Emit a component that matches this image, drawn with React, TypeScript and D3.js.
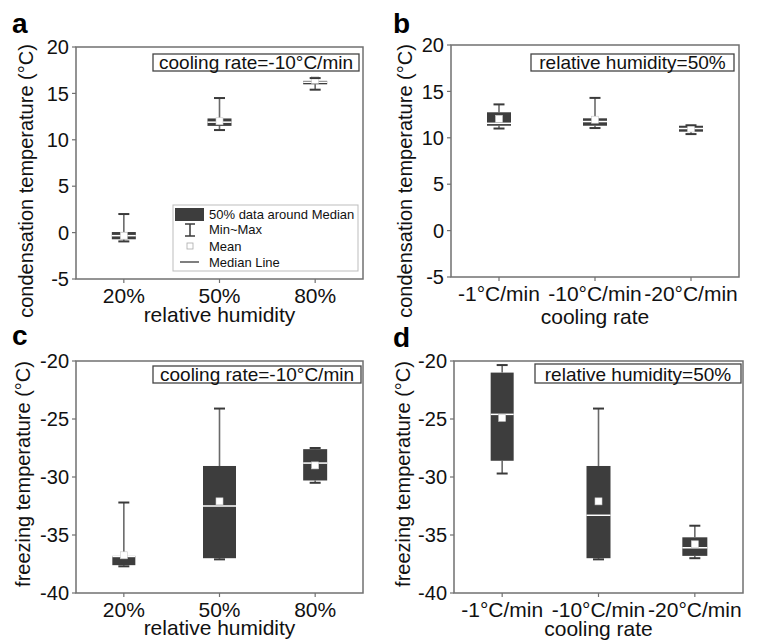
import React from "react";
import * as d3 from "d3";

// ---------- data ----------
const humidityCats = ["20%", "50%", "80%"];
const rateCats = ["-1°C/min", "-10°C/min", "-20°C/min"];

const condTicks = [-5, 0, 5, 10, 15, 20];
const freezeTicks = [-40, -35, -30, -25, -20];

// panel a: condensation vs humidity (cooling -10°C/min)
const aMin = [-0.95, 11.05, 15.4];
const aQ1 = [-0.72, 11.5, 15.98];
const aMedian = [-0.33, 11.9, 16.2];
const aQ3 = [0.06, 12.3, 16.35];
const aMax = [2.0, 14.5, 16.65];
const aMean = [-0.33, 12.0, 16.45];

// panel b: condensation vs cooling rate (RH 50%)
const bMin = [11.0, 11.05, 10.4];
const bQ1 = [11.3, 11.3, 10.66];
const bMedian = [11.56, 11.75, 11.0];
const bQ3 = [12.75, 12.1, 11.3];
const bMax = [13.6, 14.3, 11.35];
const bMean = [12.05, 11.95, 11.0];

// panel c: freezing vs humidity (cooling -10°C/min)
const cMin = [-37.7, -37.1, -30.5];
const cQ1 = [-37.6, -37.0, -30.3];
const cMedian = [-36.85, -32.5, -28.8];
const cQ3 = [-36.8, -29.05, -27.6];
const cMax = [-32.2, -24.1, -27.5];
const cMean = [-36.75, -32.1, -29.0];

// panel d: freezing vs cooling rate (RH 50%)
const dMin = [-29.7, -37.1, -37.0];
const dQ1 = [-28.6, -37.0, -36.8];
const dMedian = [-24.6, -33.3, -36.1];
const dQ3 = [-21.0, -29.05, -35.2];
const dMax = [-20.35, -24.1, -34.2];
const dMean = [-24.9, -32.1, -35.8];

// ---------- layout / style ----------
const BOX_FILL = "#3d3d3d";
const FRAME = "#707070";
const TXT = "#111";
const FONT = "'Liberation Sans', Arial, Helvetica, sans-serif";

const panels = [
  {
    letter: "a", letterPos: [12, 33],
    frame: { l: 76, r: 363, t: 47, b: 279 },
    domain: [-5, 20], ticks: condTicks, cats: humidityCats,
    min: aMin, q1: aQ1, med: aMedian, q3: aQ3, max: aMax, mean: aMean,
    boxW: [24, 24, 24],
    yTitle: "condensation temperature (°C)", yTitlePos: [33, 181],
    xTitle: "relative humidity", xTitleDy: 43,
    note: "cooling rate=-10°C/min", noteBox: [153, 54, 206, 17],
    legend: true,
  },
  {
    letter: "b", letterPos: [393, 33],
    frame: { l: 451, r: 739, t: 45, b: 277 },
    domain: [-5, 20], ticks: condTicks, cats: rateCats,
    min: bMin, q1: bQ1, med: bMedian, q3: bQ3, max: bMax, mean: bMean,
    boxW: [24, 24, 24],
    yTitle: "condensation temperature (°C)", yTitlePos: [412, 181],
    xTitle: "cooling rate", xTitleDy: 47,
    note: "relative humidity=50%", noteBox: [531, 54, 203, 17],
    legend: false,
  },
  {
    letter: "c", letterPos: [12, 345],
    frame: { l: 76, r: 363, t: 361, b: 593 },
    domain: [-40, -20], ticks: freezeTicks, cats: humidityCats,
    min: cMin, q1: cQ1, med: cMedian, q3: cQ3, max: cMax, mean: cMean,
    boxW: [23, 33, 24],
    yTitle: "freezing temperature (°C)", yTitlePos: [30, 474],
    xTitle: "relative humidity", xTitleDy: 42,
    note: "cooling rate=-10°C/min", noteBox: [153, 366, 208, 17],
    legend: false,
  },
  {
    letter: "d", letterPos: [393, 347],
    frame: { l: 454, r: 743, t: 361, b: 593 },
    domain: [-40, -20], ticks: freezeTicks, cats: rateCats,
    min: dMin, q1: dQ1, med: dMedian, q3: dQ3, max: dMax, mean: dMean,
    boxW: [23, 24, 25],
    yTitle: "freezing temperature (°C)", yTitlePos: [410, 474],
    xTitle: "cooling rate", xTitleDy: 43,
    note: "relative humidity=50%", noteBox: [535, 364, 206, 19],
    legend: false,
  },
];

function Panel({ p }: { p: any }) {
  const { l, r, t, b } = p.frame;
  const y = d3.scaleLinear().domain(p.domain).range([b, t]);
  const x = d3.scalePoint<string>().domain(p.cats).range([l, r]).padding(0.5);
  const capW = 11;

  return (
    <g>
      <text x={p.letterPos[0]} y={p.letterPos[1]} fontSize={28} fontWeight="bold" fill="#000">
        {p.letter}
      </text>

      {p.ticks.map((v: number) => (
        <g key={"yt" + v}>
          <line x1={l - 4} x2={l} y1={y(v)} y2={y(v)} stroke={FRAME} strokeWidth={1.2} />
          <text x={l - 7} y={y(v)} dy="0.36em" textAnchor="end" fontSize={20} fill={TXT}>
            {String(v)}
          </text>
        </g>
      ))}

      {p.cats.map((c: string) => (
        <g key={"xt" + c}>
          <line x1={x(c)} x2={x(c)} y1={b} y2={b + 4} stroke={FRAME} strokeWidth={1.2} />
          <text x={x(c)} y={b + 24} textAnchor="middle" fontSize={21} fill={TXT}>
            {c}
          </text>
        </g>
      ))}

      <text x={(l + r) / 2} y={b + p.xTitleDy} textAnchor="middle" fontSize={21} fill={TXT}>
        {p.xTitle}
      </text>
      <text
        transform={`translate(${p.yTitlePos[0]},${p.yTitlePos[1]}) rotate(-90)`}
        textAnchor="middle" fontSize={20} fill={TXT}
      >
        {p.yTitle}
      </text>

      {p.cats.map((c: string, i: number) => {
        const cx = x(c) as number;
        const w = p.boxW[i];
        const yq3 = y(p.q3[i]);
        const yq1 = y(p.q1[i]);
        return (
          <g key={"bx" + c}>
            <line x1={cx} x2={cx} y1={y(p.max[i])} y2={yq3} stroke="#6a6a6a" strokeWidth={1.6} />
            <line x1={cx} x2={cx} y1={yq1} y2={y(p.min[i])} stroke="#6a6a6a" strokeWidth={1.6} />
            <rect x={cx - w / 2} y={yq3} width={w} height={Math.max(0, yq1 - yq3)} fill={BOX_FILL} />
            <line x1={cx - w / 2} x2={cx + w / 2} y1={y(p.med[i])} y2={y(p.med[i])} stroke="#fff" strokeWidth={1.5} />
            <rect x={cx - 3.5} y={y(p.mean[i]) - 3.5} width={7} height={7} fill="#fff" stroke="#c8c8c8" strokeWidth={0.6} />
            <line x1={cx - capW / 2} x2={cx + capW / 2} y1={y(p.max[i])} y2={y(p.max[i])} stroke="#3a3a3a" strokeWidth={2} />
            <line x1={cx - capW / 2} x2={cx + capW / 2} y1={y(p.min[i])} y2={y(p.min[i])} stroke="#3a3a3a" strokeWidth={2} />
          </g>
        );
      })}

      <rect x={l} y={t} width={r - l} height={b - t} fill="none" stroke={FRAME} strokeWidth={1.5} />

      <rect
        x={p.noteBox[0]} y={p.noteBox[1]} width={p.noteBox[2]} height={p.noteBox[3]}
        fill="#fff" stroke="#444" strokeWidth={1.3}
      />
      <text
        x={p.noteBox[0] + p.noteBox[2] / 2} y={p.noteBox[1] + p.noteBox[3] - 2.5}
        textAnchor="middle" fontSize={19} fill={TXT}
      >
        {p.note}
      </text>

      {p.legend && (
        <g>
          <rect x={173} y={205} width={185} height={66} fill="#fff" stroke="#bdbdbd" strokeWidth={1} />
          <rect x={175} y={208} width={29} height={13} fill={BOX_FILL} />
          <line x1={190} x2={190} y1={224} y2={236} stroke="#3a3a3a" strokeWidth={1.5} />
          <line x1={185} x2={195} y1={224} y2={224} stroke="#3a3a3a" strokeWidth={1.5} />
          <line x1={185} x2={195} y1={236} y2={236} stroke="#3a3a3a" strokeWidth={1.5} />
          <rect x={187} y={243} width={6} height={6} fill="#fff" stroke="#aaa" strokeWidth={0.8} />
          <line x1={180} x2={199} y1={262} y2={262} stroke="#555" strokeWidth={1.5} />
          <text x={209} y={218.5} fontSize={13} fill={TXT}>50% data around Median</text>
          <text x={209} y={234} fontSize={13} fill={TXT}>Min~Max</text>
          <text x={209} y={250.5} fontSize={13} fill={TXT}>Mean</text>
          <text x={209} y={266.5} fontSize={13} fill={TXT}>Median Line</text>
        </g>
      )}
    </g>
  );
}

export default function App() {
  return (
    <svg
      width={760}
      height={641}
      viewBox="0 0 760 641"
      style={{ position: "absolute", left: 0, top: 0, display: "block", background: "#fff" }}
      fontFamily={FONT}
    >
      <rect x={0} y={0} width={760} height={641} fill="#fff" />
      {panels.map((p) => (
        <Panel key={p.letter} p={p} />
      ))}
    </svg>
  );
}
